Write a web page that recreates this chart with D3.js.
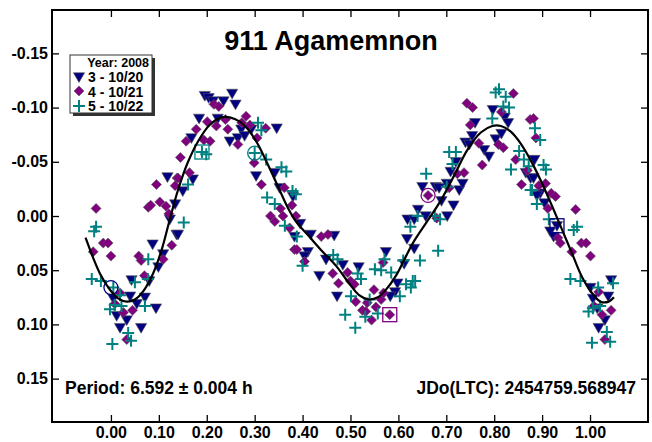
<!DOCTYPE html>
<html lang="en">

<head>
    <meta charset="UTF-8">
    <script src="https://d3js.org/d3.v7.min.js"></script>
    <title>911 Agamemnon</title>
    <style>
        body { margin: 0; background: #fff; }
        text { font-family: "Liberation Sans", Arial, sans-serif; font-weight: bold; }
    </style>
</head>

<body>
    <div id="container"></div>
    <script>
        // phase, delta mag  -- night 3 (10/20)
        const night3 = [
            [0.118, -0.036], [0.137, 0.017], [0.123, 0.003], [0.087, 0.026], [0.109, 0.035], [0.099, 0.047],
            [0.080, 0.060], [0.043, 0.059], [0.005, 0.076], [0.040, 0.074], [0.054, 0.081], [0.071, 0.075],
            [0.094, 0.085], [0.012, 0.092], [0.033, 0.096], [0.019, 0.103], [0.063, 0.103], [0.134, -0.011],
            [0.196, -0.111], [0.204, -0.109], [0.213, -0.106], [0.253, -0.113], [0.235, -0.106], [0.260, -0.103],
            [0.184, -0.090], [0.223, -0.090], [0.168, -0.072], [0.248, -0.069], [0.265, -0.072], [0.272, -0.080],
            [0.279, -0.074], [0.293, -0.080], [0.346, -0.081], [0.303, -0.037], [0.342, -0.040], [0.171, -0.034],
            [0.150, -0.023], [0.140, 0.017], [0.352, -0.026], [0.380, -0.018], [0.383, 0.019],
            [0.395, 0.007], [0.417, 0.017], [0.466, 0.018], [0.411, 0.033], [0.404, 0.037], [0.449, 0.040],
            [0.484, 0.045], [0.435, 0.055], [0.517, 0.047], [0.472, 0.074], [0.574, 0.033], [0.619, 0.003],
            [0.618, 0.021], [0.612, 0.044], [0.598, 0.062], [0.593, 0.070], [0.583, 0.074],
            [0.650, -0.027], [0.678, -0.027], [0.685, -0.026], [0.701, -0.030], [0.641, -0.006], [0.657, 0.000],
            [0.633, 0.003], [0.633, 0.030], [0.690, -0.014], [0.715, -0.010], [0.702, 0.000], [0.727, -0.024],
            [0.734, -0.030], [0.709, -0.041], [0.720, -0.050], [0.740, -0.068], [0.748, -0.066], [0.754, -0.074],
            [0.760, -0.086], [0.779, -0.061], [0.789, -0.055], [0.797, -0.098], [0.803, -0.071], [0.815, -0.076],
            [0.822, -0.091], [0.829, -0.086], [0.866, -0.040], [0.876, -0.035],
            [0.884, -0.052], [0.882, -0.035], [0.896, -0.021], [0.889, -0.019], [0.905, -0.012], [0.931, 0.009],
            [0.917, 0.014], [0.924, 0.019], [1.001, 0.066], [1.006, 0.076], [1.044, 0.059], [1.038, 0.074],
            [1.015, 0.085], [1.031, 0.096], [1.018, 0.103]
        ];
        // night 4 (10/21)
        const night4 = [
            [-0.031, -0.007], [-0.016, 0.025], [-0.006, 0.025], [-0.037, 0.033], [0.000, 0.037], [0.058, 0.037],
            [0.063, 0.041], [0.095, -0.029], [0.102, -0.013], [0.115, -0.009], [0.078, -0.008], [0.083, -0.010],
            [0.138, -0.035], [0.134, -0.028], [0.127, 0.027], [0.109, 0.040], [0.070, 0.055], [0.019, 0.071],
            [0.008, 0.081], [0.026, 0.089], [0.045, 0.087], [0.033, 0.114], [0.121, -0.002],
            [0.215, -0.103], [0.225, -0.101], [0.201, -0.087], [0.220, -0.083], [0.244, -0.080], [0.239, -0.089],
            [0.178, -0.080], [0.157, -0.069], [0.194, -0.070], [0.207, -0.069], [0.282, -0.092], [0.290, -0.084],
            [0.273, -0.086], [0.323, -0.081], [0.265, -0.066], [0.305, -0.072], [0.299, -0.049], [0.145, -0.054],
            [0.164, -0.040], [0.140, -0.035], [0.314, -0.029], [0.333, 0.000], [0.342, 0.005], [0.359, 0.000],
            [0.354, -0.007], [0.362, -0.026], [0.378, -0.010], [0.373, 0.011], [0.383, 0.031],
            [0.386, 0.000], [0.388, 0.031], [0.439, 0.019], [0.453, 0.017], [0.404, 0.042], [0.463, 0.053],
            [0.494, 0.052], [0.475, 0.062], [0.500, 0.060], [0.508, 0.063], [0.511, 0.079], [0.535, 0.080],
            [0.549, 0.068], [0.564, 0.077], [0.525, 0.087], [0.532, 0.088], [0.553, 0.084], [0.544, 0.096],
            [0.569, 0.071], [0.582, 0.091], [0.568, 0.043],
            [0.662, -0.019], [0.743, -0.104], [0.755, -0.100], [0.750, -0.084], [0.768, -0.067], [0.775, -0.047],
            [0.723, -0.039], [0.737, -0.040], [0.706, -0.026], [0.680, 0.002], [0.815, -0.096], [0.840, -0.113],
            [0.809, -0.066], [0.819, -0.063], [0.845, -0.052], [0.869, -0.042], [0.857, -0.029], [0.875, -0.089],
            [0.882, -0.090], [0.887, -0.072], [0.893, -0.028], [0.907, -0.030], [0.919, -0.021], [0.928, -0.018],
            [0.912, -0.007], [0.970, -0.006], [0.933, 0.020], [0.938, 0.025], [0.982, 0.025], [0.992, 0.025],
            [0.962, 0.033], [1.001, 0.037], [1.018, 0.070], [1.008, 0.083], [1.025, 0.091], [1.044, 0.087],
            [1.031, 0.114]
        ];
        // night 5 (10/22)
        const night5 = [
            [-0.031, 0.010], [-0.035, 0.014], [-0.040, 0.058], [-0.021, 0.060], [0.005, 0.066], [0.019, 0.073],
            [-0.002, 0.086], [0.008, 0.082], [0.050, 0.061], [0.078, 0.040], [0.077, 0.058], [0.071, 0.083],
            [0.036, 0.108], [0.042, 0.115], [0.003, 0.118], [0.022, 0.083],
            [0.190, -0.059], [0.199, -0.057], [0.161, -0.029], [0.152, 0.006], [0.307, -0.086], [0.314, -0.079],
            [0.300, -0.058], [0.324, -0.052], [0.356, -0.045], [0.366, -0.041], [0.326, -0.017], [0.342, -0.011],
            [0.363, 0.009], [0.379, -0.023],
            [0.386, -0.020], [0.388, 0.019], [0.400, 0.046], [0.464, 0.036], [0.473, 0.040], [0.515, 0.053],
            [0.522, 0.058], [0.501, 0.074], [0.489, 0.091], [0.510, 0.103], [0.531, 0.093], [0.540, 0.077],
            [0.557, 0.090], [0.551, 0.049], [0.564, 0.050], [0.571, 0.040], [0.585, 0.052], [0.603, 0.074],
            [0.610, 0.041], [0.616, 0.063], [0.626, 0.066], [0.630, 0.060], [0.625, 0.010],
            [0.658, -0.039], [0.640, 0.000], [0.676, 0.000], [0.687, 0.003], [0.683, 0.032], [0.645, 0.041],
            [0.635, 0.060], [0.706, -0.059], [0.720, -0.059], [0.713, -0.048], [0.701, -0.027], [0.803, -0.114],
            [0.810, -0.117], [0.824, -0.110], [0.819, -0.101], [0.831, -0.100], [0.796, -0.090], [0.835, -0.043],
            [0.852, -0.060], [0.862, -0.052], [0.872, -0.046], [0.876, -0.024],
            [0.885, -0.081], [0.896, -0.070], [0.903, -0.047], [0.908, -0.043], [0.879, -0.024], [0.889, -0.011],
            [0.914, 0.003], [0.966, 0.013], [0.973, 0.010], [0.959, 0.058], [0.980, 0.060], [1.017, 0.066],
            [1.048, 0.062], [0.997, 0.088], [1.006, 0.085], [1.021, 0.083], [1.035, 0.107], [1.042, 0.116],
            [1.004, 0.117]
        ];
        // fourier fit
        const fitPhase = [-0.053, -0.023, -0.002, 0.015, 0.033, 0.050, 0.068, 0.088, 0.106, 0.123, 0.140, 0.161,
            0.182, 0.206, 0.231, 0.248, 0.269, 0.286, 0.307, 0.328, 0.349, 0.370, 0.386, 0.414, 0.442, 0.470,
            0.497, 0.518, 0.539, 0.557, 0.574, 0.595, 0.616, 0.633, 0.660, 0.688, 0.716, 0.744, 0.772, 0.796,
            0.814, 0.834, 0.855, 0.879, 0.900, 0.921, 0.942, 0.962, 0.983, 1.004, 1.022, 1.039, 1.050];
        const fitMag = [0.020, 0.053, 0.068, 0.076, 0.079, 0.077, 0.069, 0.053, 0.031, 0.003, -0.024, -0.050,
            -0.069, -0.084, -0.091, -0.091, -0.087, -0.080, -0.066, -0.047, -0.027, -0.007, 0.005, 0.019, 0.033,
            0.046, 0.062, 0.073, 0.077, 0.075, 0.068, 0.055, 0.037, 0.023, 0.005, -0.014, -0.037, -0.061, -0.077,
            -0.083, -0.083, -0.078, -0.067, -0.049, -0.030, -0.009, 0.013, 0.034, 0.056, 0.071, 0.079, 0.079, 0.075];
        // first (circle) and last (square) point of each night
        const startMarks = [[0.000, 0.066, 3], [0.300, -0.058, 5], [0.662, -0.019, 4]];
        const endMarks = [[0.190, -0.059, 5], [0.582, 0.091, 4], [0.931, 0.009, 3]];

        const xTicks = [0, 0.1, 0.2, 0.3, 0.4, 0.5, 0.6, 0.7, 0.8, 0.9, 1.0];
        const yTicks = [-0.15, -0.10, -0.05, 0, 0.05, 0.10, 0.15];
        const legendLabels = ["3 - 10/20", "4 - 10/21", "5 - 10/22"];

        const width = 652, height = 442;
        const colors = { 3: "#000080", 4: "#800080", 5: "#008080" };
        const svg = d3.select("#container")
            .append("svg")
            .attr("width", width)
            .attr("height", height);

        const x = d3.scaleLinear().domain([-0.123, 1.121]).range([52, 648]);
        const y = d3.scaleLinear().domain([-0.19, 0.19]).range([10, 422]);
        const fmt = d => d.toFixed(2);

        // axes, ticks inside frame
        svg.append("g")
            .attr("transform", "translate(52,0)")
            .call(d3.axisLeft(y).tickValues(yTicks).tickSize(-7).tickPadding(4).tickFormat(fmt))
            .call(g => g.select(".domain").remove())
            .call(g => g.selectAll("text").attr("font-size", 16).attr("fill", "#000"))
            .call(g => g.selectAll("line").attr("stroke-width", 1.3));
        svg.append("g")
            .attr("transform", "translate(648,0)")
            .call(d3.axisRight(y).tickValues(yTicks).tickSize(-7).tickFormat(""))
            .call(g => g.select(".domain").remove())
            .call(g => g.selectAll("line").attr("stroke-width", 1.3));
        svg.append("g")
            .attr("transform", "translate(0,422)")
            .call(d3.axisBottom(x).tickValues(xTicks).tickSize(-7).tickPadding(5).tickFormat(fmt))
            .call(g => g.select(".domain").remove())
            .call(g => g.selectAll("text").attr("font-size", 16).attr("fill", "#000"))
            .call(g => g.selectAll("line").attr("stroke-width", 1.3));
        svg.append("g")
            .attr("transform", "translate(0,10)")
            .call(d3.axisTop(x).tickValues(xTicks).tickSize(-7).tickFormat(""))
            .call(g => g.select(".domain").remove())
            .call(g => g.selectAll("line").attr("stroke-width", 1.3));

        svg.append("rect")
            .attr("x", 52).attr("y", 10)
            .attr("width", 596).attr("height", 412)
            .attr("fill", "none")
            .attr("stroke", "#000")
            .attr("stroke-width", 2);

        const tri = d3.symbol().type(d3.symbolTriangle).size(55);
        const dia = "M0,-5L5,0L0,5L-5,0Z";
        const plus = "M-6,0H6M0,-6V6";

        function drawNight(data, id) {
            const g = svg.append("g");
            const sel = g.selectAll("path")
                .data(data)
                .enter()
                .append("path");
            if (id == 3) {
                sel.attr("d", tri)
                    .attr("transform", d => `translate(${x(d[0])},${y(d[1]) - 1}) rotate(180)`)
                    .attr("fill", colors[3])
                    .attr("stroke", "#555")
                    .attr("stroke-width", 0.6);
            } else if (id == 4) {
                sel.attr("d", dia)
                    .attr("transform", d => `translate(${x(d[0])},${y(d[1])})`)
                    .attr("fill", colors[4])
                    .attr("stroke", "#555")
                    .attr("stroke-width", 0.6);
            } else {
                sel.attr("d", plus)
                    .attr("transform", d => `translate(${x(d[0])},${y(d[1])})`)
                    .attr("fill", "none")
                    .attr("stroke", colors[5])
                    .attr("stroke-width", 2);
            }
        }
        drawNight(night3, 3);
        drawNight(night4, 4);
        drawNight(night5, 5);

        svg.append("g")
            .selectAll("circle")
            .data(startMarks)
            .enter()
            .append("circle")
            .attr("cx", d => x(d[0]))
            .attr("cy", d => y(d[1]))
            .attr("r", 7)
            .attr("fill", "none")
            .attr("stroke", d => colors[d[2]])
            .attr("stroke-width", 1.3);
        svg.append("g")
            .selectAll("rect")
            .data(endMarks)
            .enter()
            .append("rect")
            .attr("x", d => x(d[0]) - 7)
            .attr("y", d => y(d[1]) - 7)
            .attr("width", 14)
            .attr("height", 14)
            .attr("fill", "none")
            .attr("stroke", d => colors[d[2]])
            .attr("stroke-width", 1.3);

        const line = d3.line()
            .x(d => x(d))
            .y((d, i) => y(fitMag[i]))
            .curve(d3.curveCatmullRom);
        svg.append("path")
            .attr("d", line(fitPhase))
            .attr("fill", "none")
            .attr("stroke", "#000")
            .attr("stroke-width", 2.2);

        // title and notes
        svg.append("text")
            .attr("x", 331).attr("y", 50)
            .attr("text-anchor", "middle")
            .attr("font-size", 27)
            .text("911 Agamemnon");
        svg.append("text")
            .attr("x", 65).attr("y", 394)
            .attr("font-size", 17.5)
            .text("Period: 6.592 ± 0.004 h");
        svg.append("text")
            .attr("x", 636).attr("y", 394)
            .attr("text-anchor", "end")
            .attr("font-size", 17.5)
            .text("JDo(LTC): 2454759.568947");

        // legend
        const lg = svg.append("g");
        lg.append("rect")
            .attr("x", 73).attr("y", 58)
            .attr("width", 82).attr("height", 58)
            .attr("fill", "#333");
        lg.append("rect")
            .attr("x", 70).attr("y", 55)
            .attr("width", 82).attr("height", 58)
            .attr("fill", "#fff")
            .attr("stroke", "#333")
            .attr("stroke-width", 1);
        lg.append("text")
            .attr("x", 149).attr("y", 67)
            .attr("text-anchor", "end")
            .attr("font-size", 12.5)
            .text("Year: 2008");
        lg.selectAll("text.item")
            .data(legendLabels)
            .enter()
            .append("text")
            .attr("class", "item")
            .attr("x", 88)
            .attr("y", (d, i) => 82 + i * 14.5)
            .attr("font-size", 14)
            .text(d => d);
        lg.append("path").attr("d", tri).attr("transform", "translate(79,76) rotate(180)")
            .attr("fill", colors[3]).attr("stroke", "#555").attr("stroke-width", 0.6);
        lg.append("path").attr("d", dia).attr("transform", "translate(79,91)")
            .attr("fill", colors[4]).attr("stroke", "#555").attr("stroke-width", 0.6);
        lg.append("path").attr("d", plus).attr("transform", "translate(79,106)")
            .attr("fill", "none").attr("stroke", colors[5]).attr("stroke-width", 2);
    </script>
</body>

</html>
